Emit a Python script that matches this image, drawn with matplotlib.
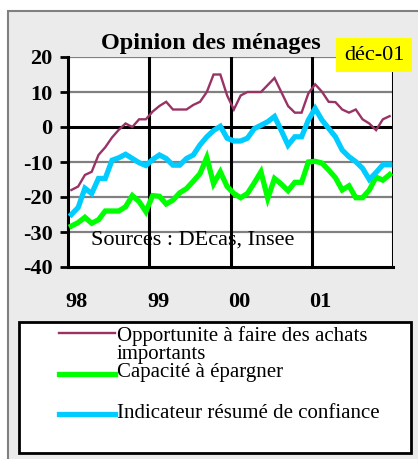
import matplotlib
matplotlib.use("Agg")
import matplotlib.pyplot as plt
from matplotlib.patches import Rectangle
from matplotlib.lines import Line2D
import numpy as np

# ---- data (monthly, Jan 1998 - Dec 2001) ----
opportunite = [-18, -17, -13.7, -12.8, -8, -5.8, -3, -0.8, 1, 0, 2.2, 2.2,
               4.4, 6, 7.2, 5, 5, 5, 6.3, 7.2, 10, 15, 15, 9,
               5, 9, 10, 10, 10, 12, 14, 10, 6, 4.1, 4.1, 9.6,
               12.2, 10.1, 7.2, 7.1, 5, 4.1, 5, 2.2, 1, -0.9, 2.2, 3.1]
epargne = [-28.3, -27.3, -25.8, -27.5, -26.5, -24, -24, -24, -22.8, -19.6, -21.3, -24.2,
           -19.6, -19.8, -22, -20.9, -18.8, -17.6, -15.5, -13.3, -8.7, -16.2, -12.8, -17,
           -19, -20.2, -19, -16, -12.8, -20.4, -14.7, -16.3, -18.2, -15.8, -15.8, -10,
           -9.8, -10.3, -12.3, -14.5, -18, -16.8, -20.2, -20.2, -18, -14.3, -15.2, -13.6]
confiance = [-25, -23, -17.5, -19, -14.7, -14.7, -9.5, -8.8, -7.8, -9, -10.2, -11,
             -9.3, -8, -9, -10.9, -10.9, -9, -8, -5.1, -2.8, -1, 0.2, -3.2,
             -4, -4, -3.2, -0.5, 0.5, 1.5, 3, -1, -5.2, -2.8, -2.8, 2,
             5.3, 2, -0.4, -2.8, -6.6, -8.5, -9.9, -11.8, -15, -13, -10.8, -10.8]
year_labels = ["98", "99", "00", "01"]
series_names = ["Opportunite à faire des achats\nimportants",
                "Capacité à épargner",
                "Indicateur résumé de confiance"]
yticks = [20, 10, 0, -10, -20, -30, -40]

W, H = 418, 459
def fx(x): return x / W
def fy(y): return 1 - y / H

plt.rcParams['font.family'] = ['Liberation Serif', 'DejaVu Serif']

fig = plt.figure(figsize=(W / 100, H / 100), dpi=100, facecolor='white')

# outer grey panel (behind everything)
fig.patches.append(Rectangle((fx(8), fy(470)), fx(420) - fx(8), fy(11) - fy(470),
                             transform=fig.transFigure, facecolor='#ebebeb',
                             edgecolor='#808080', linewidth=1.5, zorder=-10))

ax = fig.add_axes([fx(68), fy(267), fx(393) - fx(68), fy(57) - fy(267)])
ax.set_zorder(1)
ax.set_facecolor('white')
n = len(opportunite)
x = np.arange(n) + 0.5
ax.set_xlim(0, n)
ax.set_ylim(-40, 20)

for v in yticks:
    if v in (0, -40):
        continue
    ax.axhline(v, color='#808080', lw=1.6, zorder=1)
ax.axhline(0, color='black', lw=2.2, zorder=1.5)
for k in range(1, 5):
    ax.axvline(12 * k, color='black', lw=2.2, zorder=1.5)

colors = ['#993366', '#00ff00', '#00ccff']
widths = [1.7, 3.8, 3.8]
for vals, c, w in zip([opportunite, epargne, confiance], colors, widths):
    ax.plot(x, vals, color=c, lw=w, solid_joinstyle='miter', zorder=3)

for s in ['top', 'right']:
    ax.spines[s].set_visible(False)
ax.spines['left'].set_linewidth(2.2)
ax.spines['bottom'].set_linewidth(2.2)

ax.set_yticks(yticks)
ax.set_yticklabels([str(v) for v in yticks], fontsize=16, fontweight='bold')
ax.tick_params(axis='y', direction='out', length=6, width=2, pad=5)
ax.set_xticks([12 * k + 1.3 for k in range(4)])
ax.set_xticklabels(year_labels, fontsize=16, fontweight='bold')
ax.tick_params(axis='x', length=0, pad=18)

ax.text(0.07, 0.13, "Sources : DEcas, Insee", transform=ax.transAxes,
        fontsize=16, va='center', ha='left', zorder=4)

fig.text(fx(211), fy(44), "Opinion des ménages", fontsize=17.5, fontweight='bold',
         ha='center', va='center', zorder=0)
fig.text(fx(374), fy(55), "déc-01", fontsize=16, ha='center', va='center', zorder=5,
         bbox=dict(boxstyle='square,pad=0.35', facecolor='yellow', edgecolor='none'))

# legend box
fig.patches.append(Rectangle((fx(19), fy(453)), fx(411) - fx(19), fy(322) - fy(453),
                             transform=fig.transFigure, facecolor='white',
                             edgecolor='black', linewidth=2, zorder=1))
leg_y = [333, 374, 414]
text_y = [345, 373, 413]
for name, c, w, ly, ty in zip(series_names, colors, widths, leg_y, text_y):
    fig.lines.append(Line2D([fx(59), fx(115)], [fy(ly), fy(ly)], color=c, lw=w,
                            transform=fig.transFigure, zorder=2))
    fig.text(fx(117), fy(ty), name, fontsize=15, ha='left', va='center',
             linespacing=0.9, zorder=3)

fig.savefig("out.png", dpi=100, facecolor=fig.get_facecolor())
